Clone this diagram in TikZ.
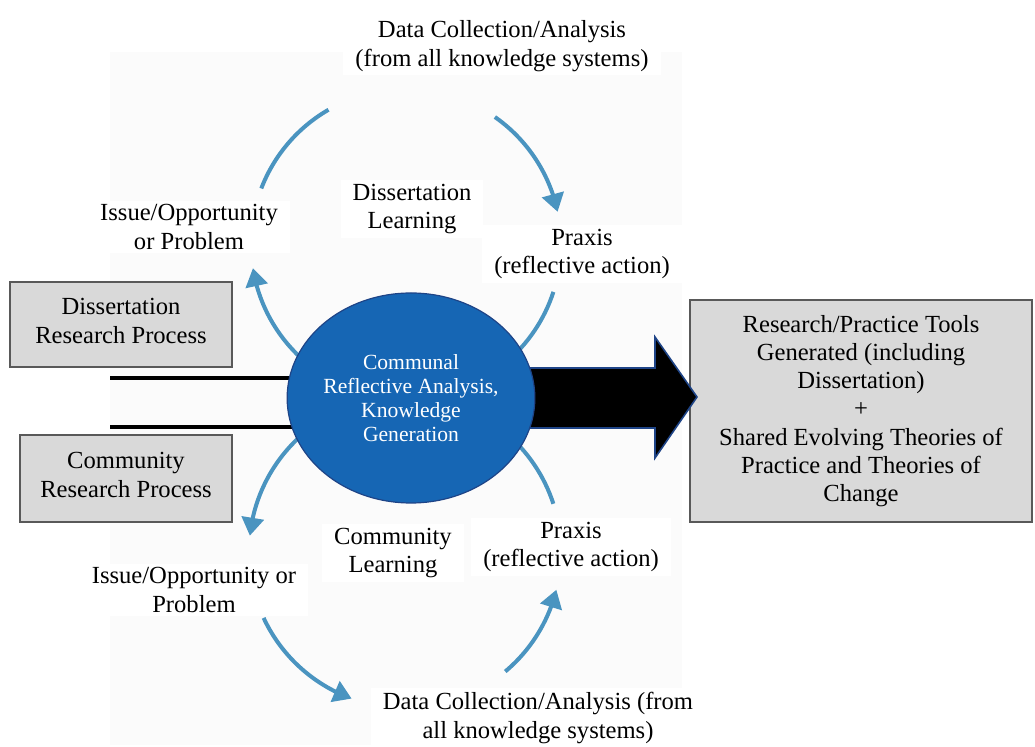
\documentclass[tikz,border=0pt]{standalone}
\usepackage{fontspec}
\setmainfont{Liberation Serif}
\usetikzlibrary{arrows.meta,bending,shapes.geometric}
\definecolor{cycblue}{RGB}{74,148,192}
\definecolor{hubfill}{RGB}{22,102,180}
\definecolor{hubedge}{RGB}{30,68,135}
\definecolor{boxgray}{RGB}{217,217,217}
\newcommand{\lowstrut}{\rule[-4pt]{0pt}{4pt}}
\tikzset{lbl/.style={align=center,font=\fontsize{12.3}{14.2}\selectfont,fill=white,inner xsep=6pt,inner ysep=2pt}}
\tikzset{gbox/.style={draw=black!65,line width=.6pt,fill=boxgray,align=center,font=\fontsize{12.3}{14.4}\selectfont,inner sep=0pt}}
\tikzset{cyc/.style={draw=cycblue,line width=2pt},cycto/.style={cyc,-{Triangle[length=9pt,width=11pt]}}}
\tikzset{rail/.style={line width=1.7pt,black}}

\begin{document}
\begin{tikzpicture}[x=.5pt,y=-.5pt]
\useasboundingbox (0,0) rectangle (1035,747);
\fill[gray!3] (110,52) rectangle (682,745);
% process boxes
\node[gbox,minimum width=111pt,minimum height=42.5pt] (dis) at (121,324.5) {Dissertation\\Research Process\lowstrut};
\node[gbox,minimum width=106pt,minimum height=43.5pt] (com) at (126,478.5) {Community\\Research Process\lowstrut};
\node[gbox,minimum width=171pt,minimum height=111pt,font=\fontsize{12.3}{14.1}\selectfont] (tools) at (861,411) {Research/Practice Tools\\Generated (including\\Dissertation)\\+\\Shared Evolving Theories of\\Practice and Theories of\\Change};
% cycle centres
\coordinate (up) at (406,244); \coordinate (lo) at (405,552); \coordinate (hc) at (411,398);
% upper cycle
\draw[cycto] (up) ++(128:155) arc[start angle=128,end angle=171,radius=155];
\draw[cyc] (up) ++(201:155) arc[start angle=201,end angle=240,radius=155];
\draw[cycto] (up) ++(305:155) arc[start angle=305,end angle=348,radius=155];
\draw[cyc] (up) ++(18:155) arc[start angle=18,end angle=50,radius=155];
% lower cycle
\draw[cycto] (lo) ++(232:156) arc[start angle=232,end angle=186,radius=156];
\draw[cycto] (lo) ++(155:156) arc[start angle=155,end angle=110,radius=156];
\draw[cycto] (lo) ++(50:156) arc[start angle=50,end angle=14,radius=156];
\draw[cyc] (lo) ++(-18:156) arc[start angle=-18,end angle=-50,radius=156];
% rails into the hub
\coordinate (r1) at (110,378); \coordinate (r2) at (110,427);
\draw[rail] (r1) -- (r1 -| hc); \draw[rail] (r2) -- (r2 -| hc);
% output arrow
\draw[fill=black,draw=hubedge,line width=.8pt] (528,368) -- (655,368) -- (655,337) -- (697,397) -- (655,458) -- (655,428) -- (528,428) -- cycle;
\node[ellipse,fill=hubfill,draw=hubedge,line width=.6pt,minimum width=119pt,minimum height=105pt,inner sep=0pt,text=white,align=center,font=\fontsize{10.8}{12}\selectfont] (hub) at (hc) {Communal\\Reflective Analysis,\\Knowledge\\Generation};
% stage labels
\node[lbl] (top) at (502,46) {Data Collection/Analysis\\(from all knowledge systems)};
\node[lbl] (iss1) at (189,227) {Issue/Opportunity\\or Problem};
\node[lbl] (dlearn) at (412,209) {Dissertation\\Learning};
\node[lbl] (prx1) at (582,254) {Praxis\\(reflective action)};
\node[lbl] (clearn) at (393,553) {Community\\Learning};
\node[lbl] (prx2) at (571,547) {Praxis\\(reflective action)};
\node[lbl] (iss2) at (194,590) {Issue/Opportunity or\\Problem};
\node[lbl] (bot) at (538,718) {Data Collection/Analysis (from\\all knowledge systems)};
\end{tikzpicture}
\end{document}
